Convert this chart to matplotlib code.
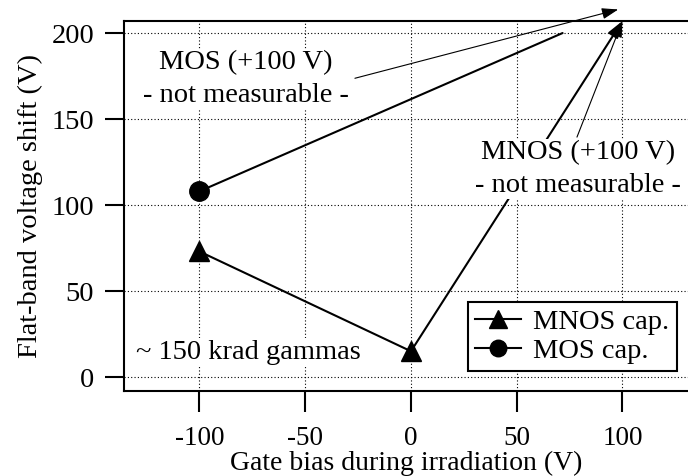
import matplotlib
matplotlib.use('Agg')
import matplotlib.pyplot as plt

# flat-band shift after ~150 krad of gammas, per gate bias
mnos_bias = [-100, 0]
mnos_shift = [73, 15]
mos_bias = [-100]
mos_shift = [108]

x_ticks = [-100, -50, 0, 50, 100]
y_ticks = [0, 50, 100, 150, 200]

plt.rcParams['font.family'] = ['Liberation Serif', 'DejaVu Serif']
plt.rcParams['font.size'] = 20.5
plt.rcParams['axes.unicode_minus'] = False

fig = plt.figure(figsize=(6.88, 4.76), dpi=100)
ax = fig.add_axes([0.1802, 0.1786, 0.8198, 0.7773])

ax.plot(mnos_bias, mnos_shift, color='k', lw=1.5, marker='^', ms=15,
        label='MNOS cap.', zorder=3)
ax.plot(mos_bias, mos_shift, color='k', lw=1.5, marker='o', ms=14,
        label='MOS cap.', zorder=3)

# +100 V points are off scale: lines run out of the frame
thin = dict(arrowstyle='-|>,head_length=0.5,head_width=0.17', lw=0.8,
            color='k', shrinkA=0, shrinkB=0, mutation_scale=20)
thick = dict(thin, lw=1.5)
ax.annotate('', xy=(100, 207), xytext=(mnos_bias[-1], mnos_shift[-1]),
            arrowprops=thick, annotation_clip=False)
ax.annotate('', xy=(100, 207), xytext=(78.5, 139.5),
            arrowprops=thin, annotation_clip=False)
ax.annotate('', xy=(98, 213.7), xytext=(-26.5, 173.7),
            arrowprops=thin, annotation_clip=False)
ax.annotate('', xy=(71.7, 200), xytext=(mos_bias[-1], mos_shift[-1]),
            arrowprops=dict(arrowstyle='-', lw=1.5, color='k',
                            shrinkA=0, shrinkB=0))

box = dict(facecolor='white', edgecolor='none', pad=1)
ax.text(-78, 173.3, 'MOS (+100 V)\n- not measurable -', ha='center',
        va='center', linespacing=1.4, bbox=box, zorder=4)
ax.text(79, 121, 'MNOS (+100 V)\n- not measurable -', ha='center',
        va='center', linespacing=1.4, bbox=box, zorder=4)
ax.text(-130, 14.5, '~ 150 krad gammas', ha='left', va='center',
        bbox=box, zorder=4)

ax.set_xlim(-135.7, 131)
ax.set_ylim(-8.1, 207)
ax.set_xticks(x_ticks)
ax.set_yticks(y_ticks)
ax.grid(True, color='k', ls=(0, (1, 2)), lw=0.8)
ax.set_axisbelow(True)

for side in ['left', 'top', 'bottom']:
    ax.spines[side].set_linewidth(1.5)
ax.spines['right'].set_visible(False)
ax.tick_params(axis='x', direction='out', length=15, width=1.5, pad=10,
               labelsize=19.5)
ax.tick_params(axis='y', direction='out', length=13.5, width=1.5, pad=8)

ax.set_xlabel('Gate bias during irradiation (V)', fontsize=20, labelpad=0)
ax.set_ylabel('Flat-band voltage shift (V)', labelpad=6)

leg = ax.legend(loc='lower right', bbox_to_anchor=(0.98, 0.054),
                borderaxespad=0, fancybox=False, framealpha=1,
                edgecolor='k', handlelength=1.6, handletextpad=0.45,
                labelspacing=0.1, borderpad=0.25, markerscale=0.85)
leg.get_frame().set_linewidth(1.5)

fig.savefig('out.png', dpi=100)
